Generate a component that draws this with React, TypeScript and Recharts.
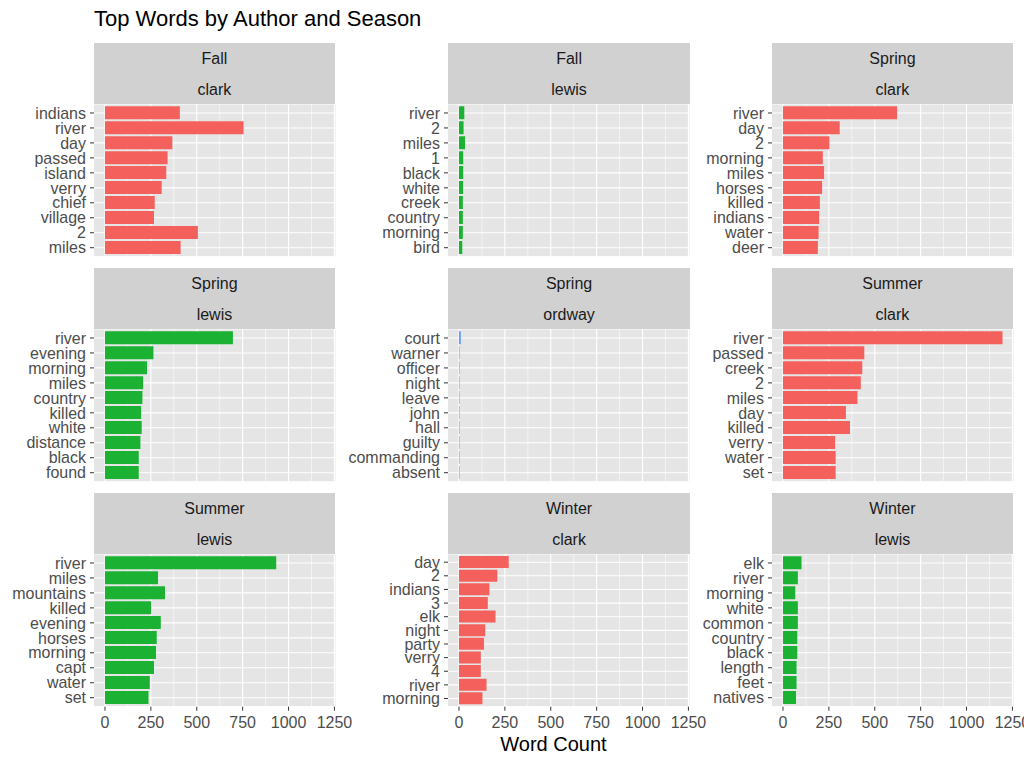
import { BarChart, Bar, XAxis, YAxis, CartesianGrid } from 'recharts'

// words and counts per facet, read top to bottom
const fallClarkWords = ['indians', 'river', 'day', 'passed', 'island', 'verry', 'chief', 'village', '2', 'miles']
const fallClarkCounts = [408, 755, 367, 341, 334, 309, 271, 267, 506, 412]

const fallLewisWords = ['river', '2', 'miles', '1', 'black', 'white', 'creek', 'country', 'morning', 'bird']
const fallLewisCounts = [29, 25, 33, 23, 23, 22, 21, 21, 21, 18]

const springClarkWords = ['river', 'day', '2', 'morning', 'miles', 'horses', 'killed', 'indians', 'water', 'deer']
const springClarkCounts = [622, 309, 253, 217, 224, 213, 201, 197, 194, 190]

const springLewisWords = ['river', 'evening', 'morning', 'miles', 'country', 'killed', 'white', 'distance', 'black', 'found']
const springLewisCounts = [697, 264, 229, 208, 204, 197, 200, 193, 184, 184]

const springOrdwayWords = ['court', 'warner', 'officer', 'night', 'leave', 'john', 'hall', 'guilty', 'commanding', 'absent']
const springOrdwayCounts = [10, 3, 3, 3, 3, 3, 3, 3, 3, 3]

const summerClarkWords = ['river', 'passed', 'creek', '2', 'miles', 'day', 'killed', 'verry', 'water', 'set']
const summerClarkCounts = [1196, 443, 432, 424, 406, 343, 365, 284, 287, 287]

const summerLewisWords = ['river', 'miles', 'mountains', 'killed', 'evening', 'horses', 'morning', 'capt', 'water', 'set']
const summerLewisCounts = [933, 289, 327, 251, 304, 282, 278, 267, 244, 237]

const winterClarkWords = ['day', '2', 'indians', '3', 'elk', 'night', 'party', 'verry', '4', 'river', 'morning']
const winterClarkCounts = [271, 209, 166, 157, 199, 143, 136, 119, 119, 150, 128]

const winterLewisWords = ['elk', 'river', 'morning', 'white', 'common', 'country', 'black', 'length', 'feet', 'natives']
const winterLewisCounts = [101, 81, 67, 81, 81, 78, 78, 74, 74, 71]

const xTicks = [0, 250, 500, 750, 1000, 1250]
const xMinorTicks = [125, 375, 625, 875, 1125]

const authorColors: Record<string, string> = {
  clark: '#F4605C',
  lewis: '#1BB233',
  ordway: '#619CFF',
}

const panels = [
  { season: 'Fall', author: 'clark', words: fallClarkWords, counts: fallClarkCounts },
  { season: 'Fall', author: 'lewis', words: fallLewisWords, counts: fallLewisCounts },
  { season: 'Spring', author: 'clark', words: springClarkWords, counts: springClarkCounts },
  { season: 'Spring', author: 'lewis', words: springLewisWords, counts: springLewisCounts },
  { season: 'Spring', author: 'ordway', words: springOrdwayWords, counts: springOrdwayCounts },
  { season: 'Summer', author: 'clark', words: summerClarkWords, counts: summerClarkCounts },
  { season: 'Summer', author: 'lewis', words: summerLewisWords, counts: summerLewisCounts },
  { season: 'Winter', author: 'clark', words: winterClarkWords, counts: winterClarkCounts },
  { season: 'Winter', author: 'lewis', words: winterLewisWords, counts: winterLewisCounts },
]

const maxCount = Math.max(...panels.flatMap((p) => p.counts))
const xDomain = [-0.05 * maxCount, 1.05 * maxCount]

const FONT = '"Liberation Sans", Arial, Helvetica, sans-serif'
const COL_LEFT = [93.7, 448.3, 771.7]
const ROW_TOP = [104, 329, 554]
const PANEL_W = 241.5
const PANEL_H = 152.7
const STRIP_H = 61.3
const AXIS_W = 112
const RIGHT_PAD = 24

function Panel({ idx }: { idx: number }) {
  const p = panels[idx]
  const col = idx % 3
  const row = Math.floor(idx / 3)
  const bottom = row === 2
  const left = COL_LEFT[col]
  const top = ROW_TOP[row]
  const data = p.words.map((w, i) => ({ word: w, n: p.counts[i] }))
  const band = PANEL_H / (data.length + 0.2)
  const pad = band * 0.1

  return (
    <>
      <div
        style={{
          position: 'absolute',
          left,
          top: top - STRIP_H,
          width: PANEL_W,
          height: STRIP_H,
          background: '#D1D1D1',
          color: '#1A1A1A',
          fontSize: 16,
          lineHeight: '16px',
          textAlign: 'center',
        }}
      >
        <div style={{ position: 'absolute', left: 0, right: 0, top: 8 }}>{p.season}</div>
        <div style={{ position: 'absolute', left: 0, right: 0, top: 39 }}>{p.author}</div>
      </div>
      <div style={{ position: 'absolute', left: left - AXIS_W, top }}>
        <BarChart
          width={AXIS_W + PANEL_W + RIGHT_PAD}
          height={PANEL_H + (bottom ? 30 : 0)}
          data={data}
          layout="vertical"
          margin={{ top: 0, right: RIGHT_PAD, bottom: 0, left: 0 }}
          barCategoryGap="5%"
        >
          <CartesianGrid fill="#E5E5E5" stroke="#FFFFFF" strokeWidth={1.1} verticalValues={xTicks} />
          <CartesianGrid horizontal={false} stroke="#FFFFFF" strokeWidth={0.55} verticalValues={xMinorTicks} />
          <XAxis
            type="number"
            dataKey="n"
            domain={xDomain}
            ticks={xTicks}
            interval={0}
            allowDataOverflow
            hide={!bottom}
            height={30}
            axisLine={false}
            tickLine={{ stroke: '#333333' }}
            tickSize={4}
            tickMargin={6}
            tick={{ fill: '#4D4D4D', fontSize: 16, fontFamily: FONT }}
          />
          <YAxis
            type="category"
            dataKey="word"
            width={AXIS_W}
            interval={0}
            padding={{ top: pad, bottom: pad }}
            axisLine={false}
            tickLine={{ stroke: '#333333' }}
            tickSize={4}
            tickMargin={4}
            tick={{ fill: '#4D4D4D', fontSize: 16, fontFamily: FONT }}
          />
          <Bar dataKey="n" fill={authorColors[p.author]} isAnimationActive={false} />
        </BarChart>
      </div>
    </>
  )
}

export default function App() {
  return (
    <div
      style={{
        position: 'absolute',
        left: 0,
        top: 0,
        width: 1024,
        height: 765,
        background: '#FFFFFF',
        fontFamily: FONT,
        overflow: 'hidden',
      }}
    >
      <div style={{ position: 'absolute', left: 94, top: 8, fontSize: 22, lineHeight: '22px', color: '#000000' }}>
        Top Words by Author and Season
      </div>
      {panels.map((_, i) => (
        <Panel key={i} idx={i} />
      ))}
      <div
        style={{
          position: 'absolute',
          left: 453.5,
          width: 200,
          top: 734,
          fontSize: 20,
          lineHeight: '20px',
          textAlign: 'center',
          color: '#000000',
        }}
      >
        Word Count
      </div>
    </div>
  )
}
